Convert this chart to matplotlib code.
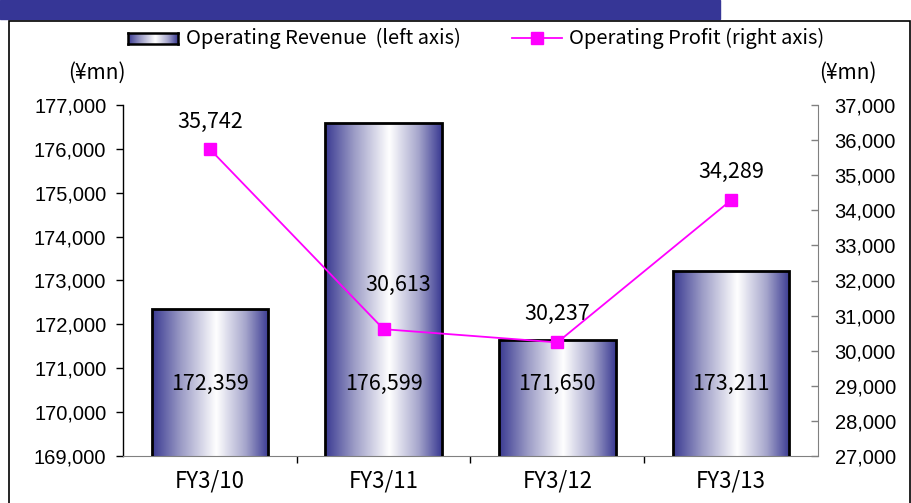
import numpy as np
import matplotlib
matplotlib.use("Agg")
import matplotlib.pyplot as plt
from matplotlib.colors import LinearSegmentedColormap
from matplotlib.patches import Rectangle
from matplotlib.lines import Line2D
from matplotlib.ticker import FuncFormatter, MultipleLocator

categories = ["FY3/10", "FY3/11", "FY3/12", "FY3/13"]
revenue = [172359, 176599, 171650, 173211]
profit = [35742, 30613, 30237, 34289]
rev_label = "Operating Revenue  (left axis)"
prof_label = "Operating Profit (right axis)"
unit = "(¥mn)"

JP = ["Noto Sans CJK JP", "DejaVu Sans"]
NUM = ["Liberation Sans", "DejaVu Sans"]

W, H = 911, 503
fig = plt.figure(figsize=(W / 100, H / 100), dpi=100)

def fx(px):
    return px / W

def fy(py):
    return 1 - py / H

# top band and frame
fig.patches.append(Rectangle((0, fy(19)), fx(720), 19 / H, transform=fig.transFigure,
                             color="#363696", zorder=0))
fig.patches.append(Rectangle((fx(9), -0.01), fx(901), fy(21) + 0.01, transform=fig.transFigure,
                             fill=False, edgecolor="black", lw=1.2, zorder=0))

cmap = LinearSegmentedColormap.from_list(
    "bar", [(0.0, "#3a3a92"), (0.25, "#9c9cc6"), (0.55, "#ffffff"),
            (0.8, "#a6a6cc"), (1.0, "#3a3a92")])
grad = np.linspace(0, 1, 256).reshape(1, -1)

ax = fig.add_axes([fx(123), 1 - 456 / H, fx(818 - 123), (456 - 105) / H])
x = np.arange(len(categories))
bw = 0.67
bars = ax.bar(x, revenue, width=bw, bottom=0, facecolor="none", edgecolor="black",
              lw=2, zorder=3)
ax.set_ylim(169000, 177000)
ax.set_xlim(-0.5, len(categories) - 0.5)
for b in bars:
    x0, w = b.get_x(), b.get_width()
    im = ax.imshow(grad, cmap=cmap, aspect="auto", extent=(x0, x0 + w, 169000, b.get_height()),
                   zorder=2, interpolation="bicubic")
    im.set_clip_path(b)
ax.set_xlim(-0.5, len(categories) - 0.5)
ax.set_ylim(169000, 177000)

ax.yaxis.set_major_locator(MultipleLocator(1000))
ax.yaxis.set_major_formatter(FuncFormatter(lambda v, p: f"{int(v):,}"))
ax.tick_params(axis="y", direction="out", length=5, width=1, labelsize=14.5, pad=7)
for t in ax.get_yticklabels():
    t.set_family(NUM)
ax.set_xticks(x)
ax.set_xticklabels(categories, family=JP, fontsize=16)
ax.tick_params(axis="x", length=0, pad=10)
ax.set_xticks(np.arange(0.5, len(categories) - 1, 1), minor=True)
ax.tick_params(axis="x", which="minor", direction="out", length=5, width=1, color="black")
ax.spines["top"].set_visible(False)
ax.spines["right"].set_visible(False)
ax.spines["bottom"].set_color("#808080")
ax.spines["left"].set_color("black")
ax.spines["left"].set_linewidth(1)

for xi, v in zip(x, revenue):
    ax.text(xi, 170650, f"{v:,}", ha="center", va="center", family=JP, fontsize=15.5, zorder=5)

ax2 = ax.twinx()
ax2.set_ylim(27000, 37000)
ax2.plot(x, profit, color="#ff00ff", lw=1.3, marker="s", markersize=8, zorder=4)
ax2.yaxis.set_major_locator(MultipleLocator(1000))
ax2.yaxis.set_major_formatter(FuncFormatter(lambda v, p: f"{int(v):,}"))
ax2.tick_params(axis="y", direction="in", length=5, width=1, labelsize=14.5, pad=12, color="#808080")
for t in ax2.get_yticklabels():
    t.set_family(NUM)
for s in ["top", "left", "bottom"]:
    ax2.spines[s].set_visible(False)
ax2.spines["right"].set_color("#808080")

offsets = [(0, 27), (15, 44), (0, 28), (0, 28)]
for xi, v, (dx, dy) in zip(x, profit, offsets):
    ax2.annotate(f"{v:,}", (xi, v), xytext=(dx, dy), textcoords="offset pixels",
                 ha="center", va="center", family=JP, fontsize=15.5)

# units
fig.text(fx(97), fy(73), unit, ha="center", va="center", family=JP, fontsize=15)
fig.text(fx(848), fy(73), unit, ha="center", va="center", family=JP, fontsize=15)

# legend
sw = fig.add_axes([fx(128), fy(44), fx(50), 11 / H])
sw.imshow(grad, cmap=cmap, aspect="auto", interpolation="bicubic")
sw.set_xticks([]); sw.set_yticks([])
for s in sw.spines.values():
    s.set_linewidth(1.8)
fig.text(fx(186), fy(38), rev_label, ha="left", va="center", family=JP, fontsize=14.5)
fig.lines.append(Line2D([fx(512), fx(562)], [fy(38), fy(38)], transform=fig.transFigure,
                        color="#ff00ff", lw=1.3))
fig.lines.append(Line2D([fx(537)], [fy(38)], transform=fig.transFigure, color="#ff00ff",
                        marker="s", markersize=8, lw=0))
fig.text(fx(569), fy(38), prof_label, ha="left", va="center", family=JP, fontsize=14.5)

fig.savefig("out.png", dpi=100)
